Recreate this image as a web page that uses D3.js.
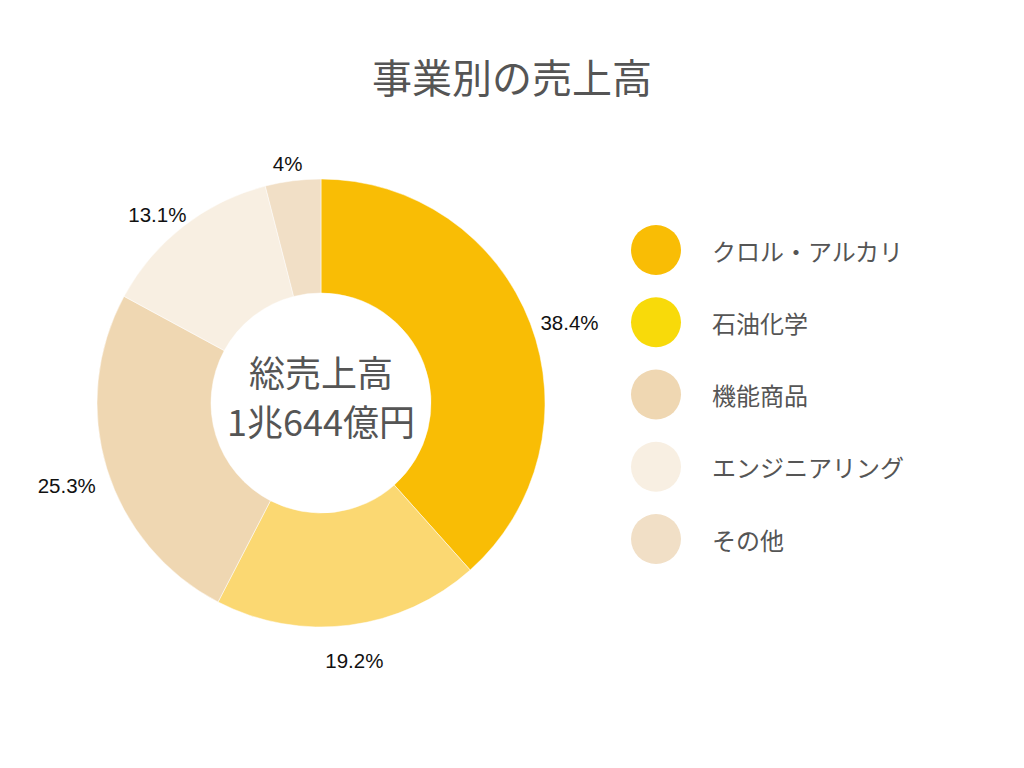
<!DOCTYPE html>
<html>
<head>
<meta charset="utf-8">
<script src="https://cdn.jsdelivr.net/npm/d3@7"></script>
<style>
	body { margin: 0; background: #fff; }
	svg { display: block; }
</style>
</head>
<body>
<script>
/*--- data ---*/
var categories = ["クロル・アルカリ", "石油化学", "機能商品", "エンジニアリング", "その他"];
var shares = [38.4, 19.2, 25.3, 13.1, 4];
var shareLabels = ["38.4%", "19.2%", "25.3%", "13.1%", "4%"];
var sliceColors = ["#F9BD05", "#FBD872", "#EFD7B2", "#F8EFE2", "#F1DFC6"];
var legendColors = ["#F9BD05", "#F8DA0A", "#EFD7B2", "#F8EFE2", "#F1DFC6"];
var title = "事業別の売上高";
var centerLines = ["総売上高", "1兆644億円"];

/*--- layout ---*/
var width = 1024, height = 768;
var cx = 321, cy = 403;
var outerR = 224, innerR = 110;
var jp = "'Noto Sans CJK JP', 'Noto Sans', sans-serif";

var svg = d3.select("body").append("svg")
	.attr("width", width)
	.attr("height", height);

//title
svg.append("text")
	.attr("x", 512)
	.attr("y", 76)
	.attr("text-anchor", "middle")
	.attr("dominant-baseline", "central")
	.style("font-family", jp)
	.style("font-size", "40px")
	.style("fill", "#555")
	.text(title);

//donut
var pie = d3.pie().sort(null).value(function (d) { return d; });
var arcs = pie(shares);
var arc = d3.arc().innerRadius(innerR).outerRadius(outerR);

var g = svg.append("g").attr("transform", "translate(" + cx + "," + cy + ")");

g.selectAll("path.slice")
	.data(arcs)
	.enter().append("path")
	.attr("class", "slice")
	.attr("d", arc)
	.style("fill", function (d, i) { return sliceColors[i]; })
	.style("stroke", "#fff")
	.style("stroke-width", 0.5);

//percent labels (outside the ring)
g.selectAll("text.pct")
	.data(arcs)
	.enter().append("text")
	.attr("class", "pct")
	.attr("x", function (d) {
		var a = (d.startAngle + d.endAngle) / 2;
		return Math.sin(a) * 266;
	})
	.attr("y", function (d) {
		var a = (d.startAngle + d.endAngle) / 2;
		return -Math.cos(a) * 250 + 9;
	})
	.attr("text-anchor", "middle")
	.attr("dominant-baseline", "central")
	.style("font-family", "'Liberation Sans', Arial, sans-serif")
	.style("font-size", "20.5px")
	.style("fill", "#111")
	.text(function (d, i) { return shareLabels[i]; });

//center text
g.selectAll("text.center")
	.data(centerLines)
	.enter().append("text")
	.attr("class", "center")
	.attr("x", 0)
	.attr("y", function (d, i) { return -32 + i * 49; })
	.attr("text-anchor", "middle")
	.attr("dominant-baseline", "central")
	.style("font-family", jp)
	.style("font-size", "36px")
	.style("fill", "#555")
	.text(function (d) { return d; });

//legend
var legendY = d3.scalePoint()
	.domain(categories)
	.range([250, 539]);

var legend = svg.selectAll("g.legend")
	.data(categories)
	.enter().append("g")
	.attr("class", "legend")
	.attr("transform", function (d) { return "translate(656," + legendY(d) + ")"; });

legend.append("circle")
	.attr("r", 25)
	.style("fill", function (d, i) { return legendColors[i]; });

legend.append("text")
	.attr("x", 56)
	.attr("y", 0)
	.attr("dominant-baseline", "central")
	.style("font-family", jp)
	.style("font-size", "24px")
	.style("fill", "#555")
	.text(function (d) { return d; });
</script>
</body>
</html>
